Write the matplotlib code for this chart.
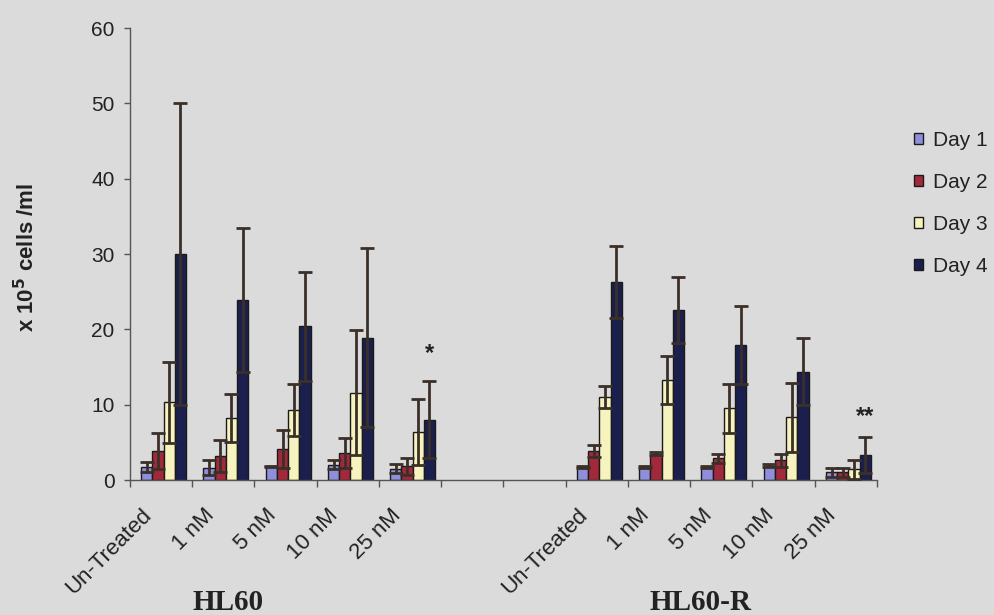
import matplotlib
matplotlib.use("Agg")
import matplotlib.pyplot as plt
import matplotlib.transforms as mtransforms
import numpy as np

# Cell counts (x 10^5 cells/ml) for each treatment, two cell lines
categories = ["Un-Treated", "1 nM", "5 nM", "10 nM", "25 nM",
              "", "",
              "Un-Treated", "1 nM", "5 nM", "10 nM", "25 nM"]
days = ["Day 1", "Day 2", "Day 3", "Day 4"]

day1_mean = [1.7, 1.6, 1.8, 2.0, 1.5, 0, 0, 1.7, 1.7, 1.7, 1.9, 1.0]
day2_mean = [3.8, 3.2, 4.1, 3.6, 1.8, 0, 0, 3.8, 3.5, 2.9, 2.6, 1.0]
day3_mean = [10.3, 8.2, 9.3, 11.6, 6.4, 0, 0, 11.0, 13.3, 9.5, 8.3, 1.4]
day4_mean = [30.0, 23.9, 20.4, 18.9, 8.0, 0, 0, 26.3, 22.6, 17.9, 14.4, 3.3]

day1_err = [0.7, 1.0, 0.1, 0.6, 0.6, 0, 0, 0.1, 0.1, 0.1, 0.2, 0.6]
day2_err = [2.4, 2.1, 2.5, 2.0, 1.1, 0, 0, 0.8, 0.2, 0.6, 0.9, 0.6]
day3_err = [5.4, 3.2, 3.5, 8.3, 4.4, 0, 0, 1.5, 3.2, 3.2, 4.6, 1.3]
day4_err = [20.0, 9.6, 7.2, 11.9, 5.1, 0, 0, 4.8, 4.4, 5.2, 4.4, 2.4]

group_names = ["HL60", "HL60-R"]
significance = {4: "*", 11: "**"}

means = [day1_mean, day2_mean, day3_mean, day4_mean]
errs = [day1_err, day2_err, day3_err, day4_err]
colors = ["#8E8EDA", "#A2293B", "#F6F3BE", "#1B1F4E"]

bg = "#DBDBDB"
fig = plt.figure(figsize=(9.95, 6.15), dpi=100, facecolor=bg)
ax = fig.add_axes([130 / 995, 135 / 615, 747 / 995, 452 / 615], facecolor=bg)

x = np.arange(len(categories))
width = 0.18
shift = 0.04
handles = []
for i, (m, e, c) in enumerate(zip(means, errs, colors)):
    xi = x + shift + (i - 1.5) * width
    m = np.array(m, dtype=float)
    e = np.array(e, dtype=float)
    keep = m > 0
    b = ax.bar(xi[keep], m[keep], width=width, color=c, edgecolor="#1a1a1a",
               linewidth=1.0, label=days[i], zorder=2)
    ax.errorbar(xi[keep], m[keep], yerr=e[keep], fmt="none", ecolor="#3b3028",
                elinewidth=2.0, capsize=5, capthick=2.0, zorder=3)
    handles.append(b)

# significance marks above the Day 4 bar
mark_gap = {4: 2.8, 11: 1.9}
for idx, mark in significance.items():
    xi = x[idx] + shift + 1.5 * width
    ax.text(xi, day4_mean[idx] + day4_err[idx] + mark_gap[idx], mark,
            ha="center", va="baseline", fontsize=17, fontweight="bold",
            color="#222222", family="Liberation Sans")

ax.set_xlim(-0.5, len(categories) - 0.5)
ax.set_ylim(0, 60)
ax.set_yticks(np.arange(0, 61, 10))
ax.tick_params(axis="y", length=4, pad=7, width=1, color="#555555",
               labelsize=15, labelcolor="#222222")
for lbl in ax.get_yticklabels():
    lbl.set_family("Liberation Sans")

ax.set_xticks(x)
ax.set_xticklabels(categories, rotation=45, ha="right", rotation_mode="anchor",
                   fontsize=16, color="#222222", family="Liberation Sans")
ax.tick_params(axis="x", which="major", length=0, pad=18)
label_offset = mtransforms.ScaledTranslation(-20 / 100, 0, fig.dpi_scale_trans)
for lbl in ax.get_xticklabels():
    lbl.set_transform(lbl.get_transform() + label_offset)
ax.set_xticks(np.arange(-0.5, len(categories), 1.0), minor=True)
ax.tick_params(axis="x", which="minor", length=5, width=1, color="#555555")

for side in ["top", "right"]:
    ax.spines[side].set_visible(False)
for side in ["left", "bottom"]:
    ax.spines[side].set_color("#555555")
    ax.spines[side].set_linewidth(1.0)

fig.text(27 / 995, 1 - 257 / 615, r"x 10$^{\mathbf{5}}$ cells /ml", rotation=90,
         ha="center", va="center", fontsize=16, fontweight="bold",
         family="Liberation Sans", color="#222222")

# cell line names under each block of treatments
group_label_x = [1.07, 8.66]
for name, xc in zip(group_names, group_label_x):
    ax.text(xc, -0.272, name, transform=ax.get_xaxis_transform(), ha="center",
            va="center", fontsize=21, fontweight="bold", family="Liberation Serif",
            color="#222222")

leg = fig.legend(handles=handles, labels=days, loc="upper left",
                 bbox_to_anchor=(897 / 995, 1 - 114 / 615), frameon=False,
                 handlelength=0.45, handleheight=0.45,
                 handletextpad=0.5, labelspacing=1.11, borderpad=0.3,
                 prop={"family": "Liberation Sans", "size": 15})
for t in leg.get_texts():
    t.set_color("#222222")

fig.savefig("out.png", dpi=100, facecolor=bg)
